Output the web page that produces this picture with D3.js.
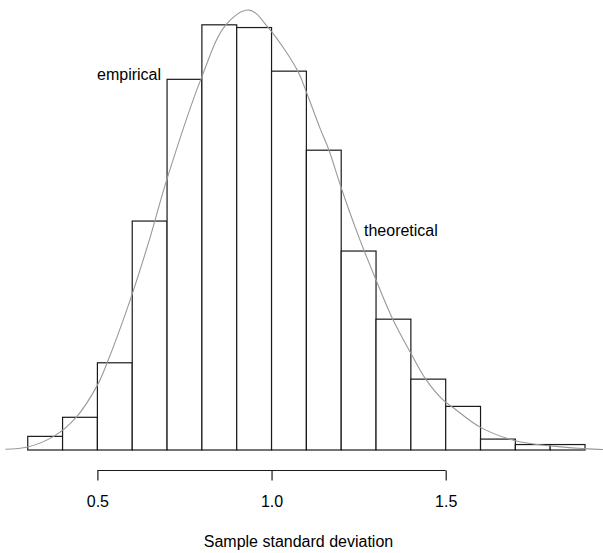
<!DOCTYPE html>
<html>
<head>
<meta charset="utf-8">
<script src="https://cdn.jsdelivr.net/npm/d3@7"></script>
<style>
  html, body { margin: 0; padding: 0; background: #fff; }
  svg { display: block; }
  text { font-family: "Liberation Sans", Arial, Helvetica, sans-serif; fill: #000; }
</style>
</head>
<body>
<svg id="chart" width="603" height="553"></svg>
<script>
// ---- data ----
const binStarts = [0.3, 0.4, 0.5, 0.6, 0.7, 0.8, 0.9, 1.0, 1.1, 1.2, 1.3, 1.4, 1.5, 1.6, 1.7, 1.8];
const binWidth = 0.1;
const densities = [0.05, 0.12, 0.32, 0.84, 1.36, 1.56, 1.55, 1.39, 1.10, 0.73, 0.48, 0.26, 0.16, 0.04, 0.02, 0.02];

const curveX = [0.236, 0.300, 0.373, 0.439, 0.500, 0.528, 0.594, 0.649, 0.699, 0.797, 0.869, 0.936, 0.991, 1.075, 1.101, 1.139, 1.165, 1.199, 1.254, 1.300, 1.348, 1.400, 1.443, 1.493, 1.522, 1.600, 1.700, 1.800, 1.900, 1.964];
const curveY = [0.003, 0.011, 0.049, 0.120, 0.238, 0.320, 0.550, 0.770, 0.991, 1.360, 1.560, 1.614, 1.549, 1.391, 1.310, 1.181, 1.100, 0.966, 0.770, 0.624, 0.480, 0.355, 0.259, 0.183, 0.155, 0.083, 0.034, 0.015, 0.005, 0.001];

const axisTicks = [0.5, 1.0, 1.5];
const axisTickLabels = ["0.5", "1.0", "1.5"];
const xLabel = "Sample standard deviation";
const labelEmpirical = "empirical";
const labelTheoretical = "theoretical";

// ---- scales ----
const x = d3.scaleLinear().domain([0.5, 1.5]).range([97.4, 445.7]);
const y = d3.scaleLinear().domain([0, 1.65]).range([450, 450 - 1.65 * 272.55]);

const svg = d3.select("#chart");
const FS = "16px";

// histogram bars
svg.append("g").selectAll("rect")
  .data(binStarts.map((b, i) => ({ x0: b, x1: b + binWidth, d: densities[i] })))
  .join("rect")
  .attr("x", d => x(d.x0))
  .attr("y", d => y(d.d))
  .attr("width", d => x(d.x1) - x(d.x0))
  .attr("height", d => y(0) - y(d.d))
  .attr("fill", "#fff")
  .attr("stroke", "#1a1a1a")
  .attr("stroke-width", 1.2);

// theoretical curve
const line = d3.line()
  .x(d => x(d[0]))
  .y(d => y(d[1]))
  .curve(d3.curveCatmullRom.alpha(0.5));
svg.append("path")
  .datum(curveX.map((v, i) => [v, curveY[i]]))
  .attr("d", line)
  .attr("fill", "none")
  .attr("stroke", "#999")
  .attr("stroke-width", 1.1);

// x axis (R style)
const axisY = 470.5;
const axis = d3.axisBottom(x)
  .tickValues(axisTicks)
  .tickFormat((d, i) => axisTickLabels[i])
  .tickSize(10)
  .tickPadding(15);
const gAxis = svg.append("g").attr("transform", `translate(0,${axisY})`).call(axis);
gAxis.select(".domain").attr("d", `M${x(0.5)},0H${x(1.5)}`).attr("stroke", "#1a1a1a").attr("stroke-width", 1.2);
gAxis.selectAll(".tick line").attr("stroke", "#1a1a1a").attr("stroke-width", 1.2);
gAxis.selectAll(".tick text")
  .attr("font-family", '"Liberation Sans", Arial, Helvetica, sans-serif')
  .attr("font-size", FS)
  .attr("fill", "#000");

// axis title
svg.append("text")
  .attr("x", 298.5)
  .attr("y", 547)
  .attr("text-anchor", "middle")
  .attr("font-size", FS)
  .text(xLabel);

// annotations
svg.append("text")
  .attr("x", 97)
  .attr("y", 79.5)
  .attr("font-size", FS)
  .text(labelEmpirical);
svg.append("text")
  .attr("x", 364)
  .attr("y", 236)
  .attr("font-size", FS)
  .text(labelTheoretical);
</script>
</body>
</html>
